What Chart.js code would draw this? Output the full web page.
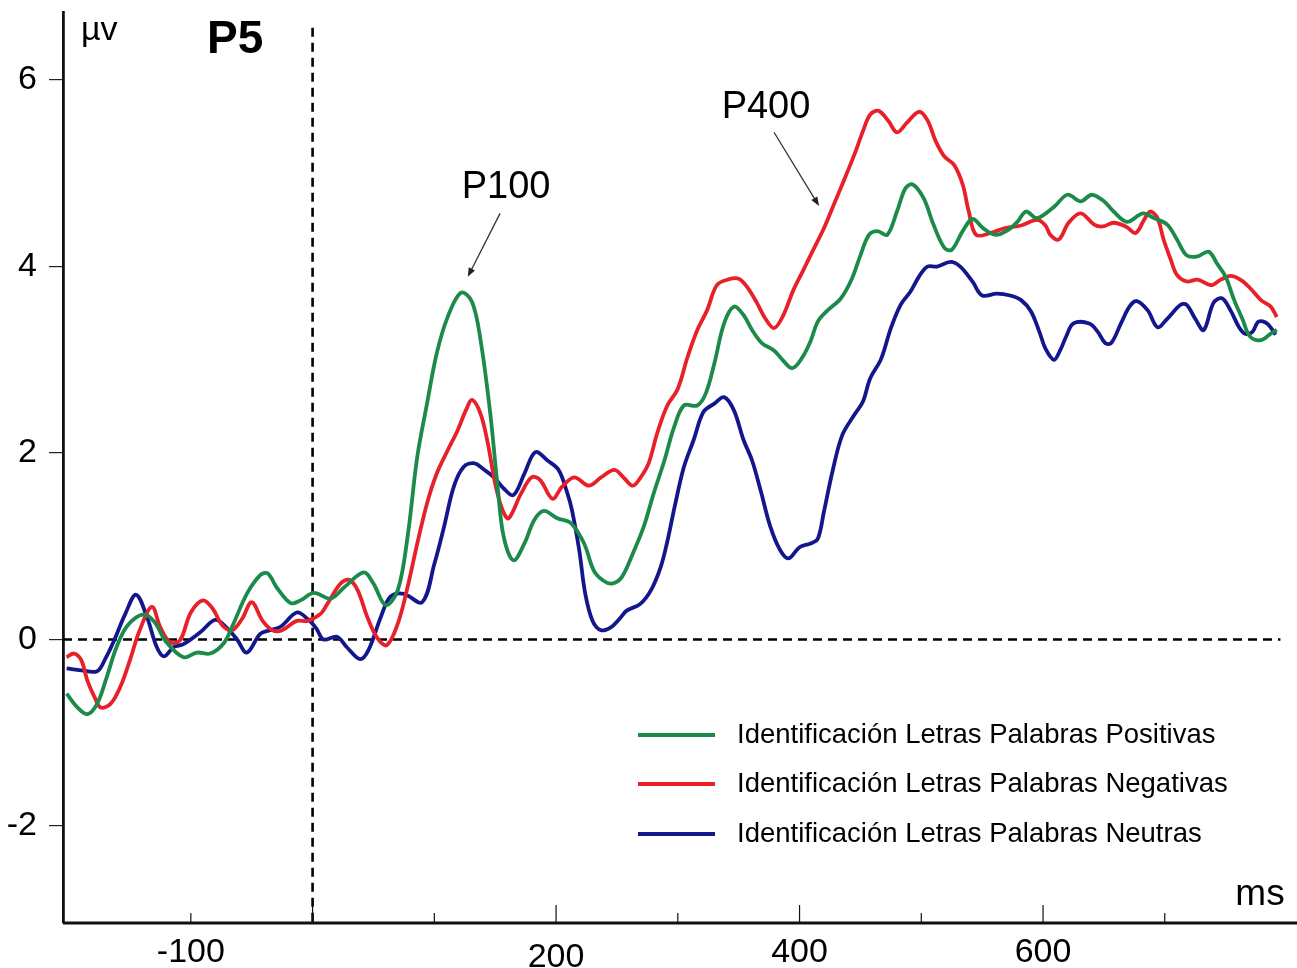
<!DOCTYPE html>
<html>
<head>
<meta charset="utf-8">
<script src="https://cdn.jsdelivr.net/npm/chart.js@4.4.0/dist/chart.umd.min.js"></script>
<style>
  html, body { margin: 0; padding: 0; background: #fff; }
  #erp { display: block; }
</style>
</head>
<body>
<canvas id="erp" width="1297" height="968"></canvas>
<script>
// Electrodo P5: tiempo (ms) y amplitud (µV)
const seriesLabels = [
    'Identificación Letras Palabras Positivas',
    'Identificación Letras Palabras Negativas',
    'Identificación Letras Palabras Neutras'
];

const positivas = [
    [-202,-0.58],[-193,-0.73],[-185,-0.80],[-177,-0.69],[-169,-0.40],[-161,-0.08],[-152,0.15],[-139,0.27],
    [-130,0.19],[-120,-0.03],[-106,-0.19],[-95,-0.14],[-84,-0.15],[-73,-0.04],[-65,0.17],[-54,0.49],
    [-43,0.69],[-37,0.71],[-29,0.55],[-18,0.39],[-10,0.42],[1,0.50],[15,0.44],[26,0.56],[42,0.72],
    [50,0.60],[60,0.37],[70,0.53],[78,1.10],[86,1.96],[94,2.53],[102,3.07],[111,3.46],[122,3.72],
    [131,3.62],[138,3.21],[146,2.42],[152,1.64],[157,1.10],[165,0.85],[174,1.03],[182,1.28],[190,1.38],
    [201,1.30],[212,1.25],[223,1.03],[231,0.74],[239,0.63],[246,0.60],[254,0.67],[263,0.92],[272,1.21],
    [280,1.56],[289,1.92],[297,2.28],[305,2.51],[316,2.51],[323,2.64],[330,2.96],[338,3.39],[346,3.57],
    [354,3.48],[361,3.32],[369,3.18],[379,3.10],[386,3.00],[394,2.91],[402,3.02],[409,3.20],[415,3.41],
    [423,3.53],[434,3.66],[443,3.87],[450,4.12],[457,4.34],[464,4.38],[472,4.34],[480,4.59],[487,4.84],
    [493,4.88],[502,4.73],[510,4.45],[519,4.20],[525,4.18],[534,4.38],[542,4.51],[551,4.41],[561,4.34],
    [571,4.39],[579,4.48],[586,4.59],[595,4.52],[609,4.64],[620,4.77],[631,4.70],[640,4.77],[650,4.70],
    [658,4.59],[669,4.48],[682,4.57],[691,4.52],[702,4.45],[710,4.29],[718,4.12],[727,4.11],[736,4.16],
    [743,4.03],[750,3.89],[757,3.64],[764,3.43],[770,3.25],[779,3.21],[787,3.28],[792,3.32]
];

const negativas = [
    [-202,-0.19],[-196,-0.15],[-190,-0.22],[-185,-0.44],[-179,-0.62],[-174,-0.73],[-166,-0.69],[-158,-0.51],
    [-150,-0.22],[-142,0.10],[-132,0.35],[-125,0.13],[-117,-0.03],[-109,-0.01],[-100,0.29],[-90,0.42],
    [-82,0.33],[-74,0.15],[-66,0.10],[-58,0.22],[-50,0.40],[-41,0.20],[-33,0.10],[-25,0.10],[-13,0.20],
    [-4,0.20],[7,0.28],[12,0.38],[23,0.60],[30,0.64],[37,0.53],[45,0.24],[53,0.02],[61,-0.06],[70,0.17],
    [78,0.56],[86,1.03],[94,1.46],[102,1.78],[111,2.03],[119,2.24],[126,2.46],[131,2.57],[138,2.42],
    [144,2.10],[150,1.67],[156,1.39],[161,1.30],[171,1.56],[180,1.74],[187,1.71],[197,1.51],[205,1.64],
    [215,1.74],[227,1.65],[237,1.74],[248,1.82],[256,1.73],[263,1.65],[269,1.73],[276,1.89],[283,2.21],
    [291,2.50],[300,2.69],[308,3.03],[316,3.32],[324,3.53],[332,3.80],[341,3.86],[350,3.87],[357,3.78],
    [365,3.61],[372,3.44],[379,3.34],[386,3.46],[395,3.75],[403,3.96],[409,4.12],[420,4.41],[428,4.66],
    [436,4.91],[445,5.20],[452,5.45],[458,5.63],[465,5.67],[473,5.56],[480,5.44],[488,5.54],[498,5.66],
    [505,5.57],[512,5.34],[519,5.18],[527,5.09],[534,4.88],[539,4.59],[545,4.34],[557,4.36],[568,4.41],
    [582,4.44],[595,4.50],[602,4.44],[606,4.34],[613,4.29],[621,4.47],[631,4.57],[642,4.45],[649,4.43],
    [658,4.47],[668,4.43],[676,4.36],[683,4.50],[688,4.59],[694,4.52],[699,4.29],[705,4.07],[710,3.91],
    [718,3.84],[727,3.86],[738,3.80],[746,3.86],[754,3.90],[762,3.86],[770,3.77],[779,3.64],[787,3.57],
    [792,3.46]
];

const neutras = [
    [-202,-0.31],[-190,-0.33],[-177,-0.34],[-170,-0.20],[-163,-0.01],[-154,0.27],[-145,0.48],[-136,0.24],
    [-128,-0.08],[-122,-0.18],[-114,-0.08],[-106,-0.05],[-92,0.08],[-80,0.21],[-70,0.12],[-62,0.00],
    [-54,-0.14],[-43,0.06],[-35,0.10],[-26,0.14],[-13,0.29],[-4,0.22],[3,0.12],[9,0.00],[20,0.03],
    [28,-0.08],[39,-0.21],[46,-0.11],[56,0.24],[64,0.46],[75,0.49],[90,0.40],[100,0.81],[108,1.21],
    [116,1.64],[124,1.85],[133,1.89],[141,1.82],[149,1.74],[157,1.62],[165,1.55],[174,1.78],[183,2.01],
    [193,1.92],[202,1.82],[209,1.58],[213,1.39],[219,0.96],[224,0.49],[230,0.20],[237,0.10],[245,0.13],
    [252,0.22],[258,0.31],[269,0.38],[278,0.53],[286,0.78],[291,1.03],[298,1.46],[305,1.85],[313,2.14],
    [321,2.44],[330,2.53],[338,2.60],[346,2.46],[354,2.14],[361,1.92],[368,1.60],[376,1.21],[384,0.96],
    [391,0.87],[400,0.99],[409,1.03],[415,1.08],[420,1.37],[427,1.80],[435,2.19],[445,2.41],[452,2.55],
    [458,2.80],[467,3.01],[475,3.34],[483,3.59],[491,3.73],[498,3.89],[505,4.00],[513,4.00],[524,4.05],
    [532,4.00],[542,3.84],[550,3.69],[562,3.71],[573,3.69],[582,3.64],[590,3.52],[597,3.30],[602,3.12],
    [609,3.00],[614,3.10],[619,3.25],[625,3.39],[638,3.39],[645,3.30],[651,3.18],[656,3.18],[664,3.39],
    [671,3.57],[677,3.63],[686,3.53],[694,3.35],[702,3.44],[713,3.59],[718,3.59],[725,3.44],[732,3.32],
    [740,3.61],[747,3.66],[754,3.53],[761,3.35],[766,3.28],[772,3.30],[777,3.41],[784,3.39],[791,3.27]
];

// Ejes
const yTicks = [-2, 0, 2, 4, 6];
const xMajorTicks = [0, 200, 400, 600];
const xMinorTicks = [-100, 100, 300, 500, 700];
const xTickLabels = [-100, 200, 400, 600];

const FONT = '"Liberation Sans", Arial, Helvetica, sans-serif';
Chart.defaults.font.family = FONT;

function toPoints(pairs) {
    return pairs.map(p => ({ x: p[0], y: p[1] }));
}

// Decoración: líneas de referencia, eje x, anotaciones y leyenda
const erpDecor = {
    id: 'erpDecor',
    beforeDatasetsDraw(chart) {
        const { ctx, chartArea: a, scales: { x, y } } = chart;
        ctx.save();
        ctx.strokeStyle = '#000';
        ctx.lineWidth = 2.6;
        ctx.setLineDash([9, 6]);
        ctx.beginPath();
        ctx.moveTo(a.left, y.getPixelForValue(0));
        ctx.lineTo(x.getPixelForValue(795), y.getPixelForValue(0));
        ctx.moveTo(x.getPixelForValue(0), y.getPixelForValue(6.56));
        ctx.lineTo(x.getPixelForValue(0), a.bottom);
        ctx.stroke();
        ctx.restore();
    },
    afterDraw(chart) {
        const { ctx, chartArea: a, scales: { x, y } } = chart;
        ctx.save();

        // eje x
        ctx.strokeStyle = '#111';
        ctx.lineWidth = 2.8;
        ctx.beginPath();
        ctx.moveTo(a.left, a.bottom);
        ctx.lineTo(a.right, a.bottom);
        ctx.stroke();

        ctx.lineWidth = 1.2;
        ctx.beginPath();
        xMajorTicks.forEach(t => {
            const px = x.getPixelForValue(t);
            ctx.moveTo(px, a.bottom);
            ctx.lineTo(px, a.bottom - 18);
        });
        xMinorTicks.forEach(t => {
            const px = x.getPixelForValue(t);
            ctx.moveTo(px, a.bottom);
            ctx.lineTo(px, a.bottom - 10);
        });
        ctx.stroke();

        ctx.fillStyle = '#000';
        ctx.font = '34px ' + FONT;
        ctx.textAlign = 'center';
        ctx.textBaseline = 'alphabetic';
        xTickLabels.forEach(t => {
            const off = t === 200 ? 44 : 39;
            ctx.fillText(String(t), x.getPixelForValue(t), a.bottom + off);
        });

        // unidades y título
        ctx.textAlign = 'left';
        ctx.font = '34px ' + FONT;
        ctx.fillText('µv', 81, 40);
        ctx.font = 'bold 46px ' + FONT;
        ctx.fillText('P5', 207, 53);
        ctx.textAlign = 'center';
        ctx.font = '37px ' + FONT;
        ctx.fillText('ms', 1260, 905);

        // componentes P100 y P400
        ctx.textAlign = 'left';
        ctx.font = '38px ' + FONT;
        ctx.fillText('P100', x.getPixelForValue(122.5), y.getPixelForValue(4.73));
        ctx.fillText('P400', x.getPixelForValue(336), y.getPixelForValue(5.59));
        arrow(ctx, x.getPixelForValue(154), y.getPixelForValue(4.57),
                   x.getPixelForValue(127.5), y.getPixelForValue(3.89));
        arrow(ctx, x.getPixelForValue(379), y.getPixelForValue(5.44),
                   x.getPixelForValue(416), y.getPixelForValue(4.65));

        // leyenda
        const rows = [743, 792, 842];
        ctx.font = '27.5px ' + FONT;
        chart.data.datasets.forEach((ds, i) => {
            ctx.strokeStyle = ds.borderColor;
            ctx.lineWidth = 4;
            ctx.beginPath();
            ctx.moveTo(638, rows[i] - 8);
            ctx.lineTo(715, rows[i] - 8);
            ctx.stroke();
            ctx.fillStyle = '#000';
            ctx.fillText(ds.label, 737, rows[i]);
        });
        ctx.restore();
    }
};

function arrow(ctx, x1, y1, x2, y2) {
    const ang = Math.atan2(y2 - y1, x2 - x1);
    ctx.save();
    ctx.strokeStyle = '#333';
    ctx.fillStyle = '#222';
    ctx.lineWidth = 1.3;
    ctx.beginPath();
    ctx.moveTo(x1, y1);
    ctx.lineTo(x2 - 6 * Math.cos(ang), y2 - 6 * Math.sin(ang));
    ctx.stroke();
    ctx.beginPath();
    ctx.moveTo(x2, y2);
    ctx.lineTo(x2 - 9 * Math.cos(ang) + 3.5 * Math.sin(ang), y2 - 9 * Math.sin(ang) - 3.5 * Math.cos(ang));
    ctx.lineTo(x2 - 9 * Math.cos(ang) - 3.5 * Math.sin(ang), y2 - 9 * Math.sin(ang) + 3.5 * Math.cos(ang));
    ctx.closePath();
    ctx.fill();
    ctx.restore();
}

new Chart(document.getElementById('erp'), {
    type: 'line',
    data: {
        datasets: [
            { label: seriesLabels[0], data: toPoints(positivas), borderColor: '#1b8a4a' },
            { label: seriesLabels[1], data: toPoints(negativas), borderColor: '#e8202a' },
            { label: seriesLabels[2], data: toPoints(neutras), borderColor: '#13168c' }
        ]
    },
    options: {
        responsive: false,
        animation: false,
        devicePixelRatio: 1,
        layout: { padding: { left: 0, top: 12, right: 0, bottom: 45 } },
        elements: {
            point: { radius: 0 },
            line: { tension: 0.35, borderWidth: 3.8, fill: false }
        },
        plugins: {
            legend: { display: false },
            tooltip: { enabled: false }
        },
        scales: {
            x: { type: 'linear', min: -205, max: 808.6, display: false },
            y: {
                type: 'linear',
                min: -3.04,
                max: 6.73,
                afterBuildTicks: (s) => { s.ticks = yTicks.map(v => ({ value: v })); },
                afterFit: (s) => { s.width = 63; s.paddingTop = 0; s.paddingBottom = 0; },
                border: { display: true, color: '#111', width: 2.8 },
                grid: { drawOnChartArea: false, drawTicks: true, tickLength: 14, color: '#222', lineWidth: 1.2 },
                ticks: { color: '#000', padding: 12, font: { size: 34 } }
            }
        }
    },
    plugins: [erpDecor]
});
</script>
</body>
</html>
